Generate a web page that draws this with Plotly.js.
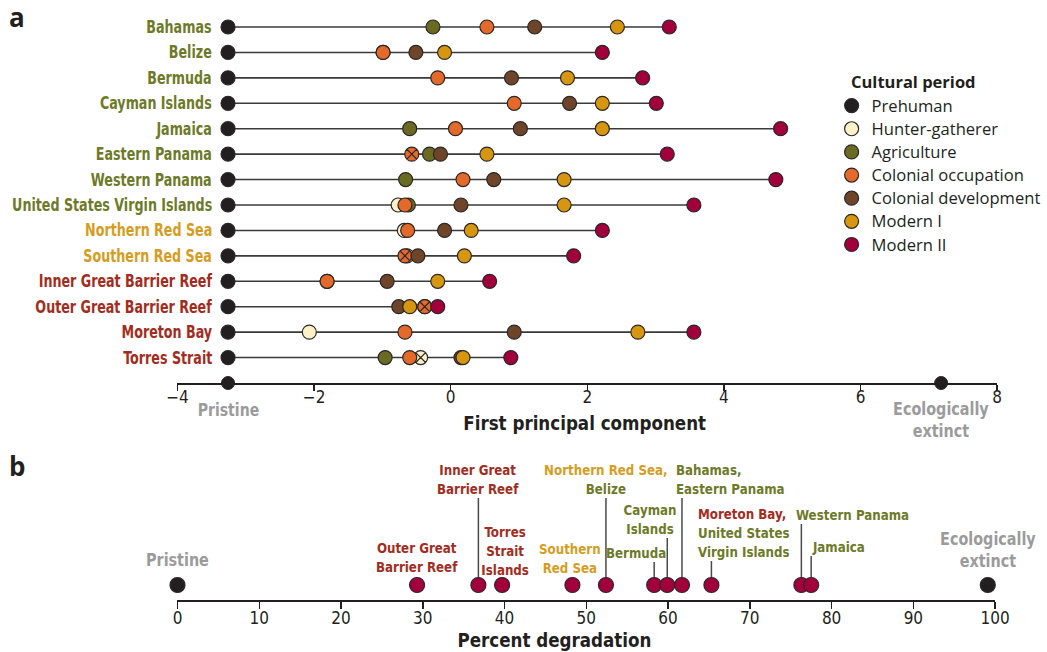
<!DOCTYPE html>
<html>
<head>
<meta charset="utf-8">
<script src="https://cdn.plot.ly/plotly-3.0.1.min.js"></script>
<style>
html,body{margin:0;padding:0;background:#fff;overflow:hidden;}
#chart{width:1047px;height:652px;}
.legendtext{transform-box:fill-box;transform-origin:left center;transform:scaleX(1.07);}
</style>
</head>
<body>
<div id="chart"></div>
<script>
// ---------- DATA: panel a (first principal component) ----------
const locations = ["Bahamas","Belize","Bermuda","Cayman Islands","Jamaica","Eastern Panama","Western Panama",
  "United States Virgin Islands","Northern Red Sea","Southern Red Sea","Inner Great Barrier Reef",
  "Outer Great Barrier Reef","Moreton Bay","Torres Strait"];
const regions = ["Caribbean","Caribbean","Caribbean","Caribbean","Caribbean","Caribbean","Caribbean",
  "Caribbean","Red Sea","Red Sea","Australia","Australia","Australia","Australia"];
const prehuman        = [-3.26,-3.26,-3.26,-3.26,-3.26,-3.26,-3.26,-3.26,-3.26,-3.26,-3.26,-3.26,-3.26,-3.26];
const hunterGatherer  = [null,null,null,null,null,null,null,-0.77,-0.68,-0.64,-1.81,-0.38,-2.07,-0.44];
const agriculture     = [-0.26,-0.99,null,null,-0.60,-0.31,-0.66,-0.62,null,null,null,null,null,-0.96];
const colonialOcc     = [0.53,-0.99,-0.19,0.93,0.07,-0.57,0.18,-0.67,-0.63,-0.67,-1.81,-0.38,-0.67,-0.60];
const colonialDev     = [1.23,-0.51,0.89,1.74,1.02,-0.15,0.63,0.15,-0.09,-0.48,-0.93,-0.76,0.93,0.15];
const modernI         = [2.44,-0.09,1.71,2.22,2.22,0.53,1.66,1.66,0.30,0.20,-0.19,-0.60,2.74,0.18];
const modernII        = [3.20,2.22,2.81,3.01,4.83,3.17,4.76,3.56,2.22,1.80,0.57,-0.19,3.56,0.88];
// points drawn with a cross in the reference
const crossedHunter   = [0,0,0,0,0,0,0,0,0,0,0,0,0,1];
const crossedColOcc   = [0,0,0,0,0,1,0,0,0,1,0,1,0,0];
const axisEnds        = [-3.26, 7.18];   // pristine and ecologically extinct on the axis
const pcTicks         = [-4,-2,0,2,4,6,8];

// ---------- DATA: panel b (percent degradation) ----------
const pctLabels = ["Pristine","Outer Great Barrier Reef","Inner Great Barrier Reef","Torres Strait Islands",
  "Southern Red Sea","Northern Red Sea, Belize","Bermuda","Cayman Islands","Bahamas, Eastern Panama",
  "Moreton Bay, United States Virgin Islands","Western Panama","Jamaica","Ecologically extinct"];
const pctValues = [0,29.3,36.8,39.7,48.3,52.4,58.3,59.9,61.7,65.3,76.3,77.5,99.1];
const pctTicks  = [0,10,20,30,40,50,60,70,80,90,100];

// ---------- STYLE ----------
const COND = "'DejaVu Sans Condensed','Liberation Sans Narrow','Arial Narrow',sans-serif";
const SANS = "'Open Sans','Noto Sans',sans-serif";
const C = {
  prehuman:'#231f20', hunter:'#fdf1c7', agri:'#6b6a22', colOcc:'#e36a2a', colDev:'#6e4529',
  modI:'#d6960f', modII:'#a1003b', edge:'#2b2627'
};
const regionColor = {Caribbean:'#6d7a28', 'Red Sea':'#d69c1e', Australia:'#a32c20'};
const GRAY = '#9b9b9b';
const MS = 14;

const rowY = locations.map((_, i) => i);
const traces = [];

// connecting lines per location (prehuman -> modern II)
const lx = [], ly = [];
locations.forEach((_, i) => { lx.push(prehuman[i], modernII[i], null); ly.push(i, i, null); });
traces.push({x: lx, y: ly, type:'scatter', mode:'lines', line:{color:'#3a3a3a', width:1.6},
  hoverinfo:'skip', showlegend:false, xaxis:'x', yaxis:'y'});

function periodTrace(name, vals, color, crossed){
  return {
    x: vals, y: rowY, type:'scatter', mode:'markers', name: name, cliponaxis:false,
    xaxis:'x', yaxis:'y',
    marker:{size:MS, color:color,
      symbol: crossed ? crossed.map(c => c ? 'circle-x' : 'circle') : 'circle',
      line:{color:C.edge, width:1.2}}
  };
}
traces.push(periodTrace('Prehuman', prehuman, C.prehuman));
traces.push(periodTrace('Hunter-gatherer', hunterGatherer, C.hunter, crossedHunter));
traces.push(periodTrace('Agriculture', agriculture, C.agri));
traces.push(periodTrace('Colonial occupation', colonialOcc, C.colOcc, crossedColOcc));
traces.push(periodTrace('Colonial development', colonialDev, C.colDev));
traces.push(periodTrace('Modern I', modernI, C.modI));
traces.push(periodTrace('Modern II', modernII, C.modII));

// axis end points (pristine / extinct) on the bottom axis line
traces.push({x: axisEnds, y: axisEnds.map(() => locations.length), type:'scatter', mode:'markers',
  cliponaxis:false, showlegend:false, xaxis:'x', yaxis:'y',
  marker:{size:13, color:C.prehuman, line:{color:C.edge, width:1}}});

// panel b dots
traces.push({x: pctValues, y: pctValues.map(() => 1), type:'scatter', mode:'markers', cliponaxis:false,
  showlegend:false, xaxis:'x2', yaxis:'y2',
  marker:{size:15, color: pctValues.map((v, i) => (i === 0 || i === pctValues.length - 1) ? C.prehuman : C.modII),
    line:{color:C.edge, width:1.2}}});

// ---------- ANNOTATIONS ----------
const ann = [];
const annScale = [];   // horizontal squeeze to imitate a condensed face
const H = 652;
const py = p => 1 - p / H;
function addAnn(a, sx){ ann.push(a); annScale.push(sx || 1); }

// location labels panel a
locations.forEach((loc, i) => {
  addAnn({text: '<b>' + loc + '</b>', x: 215/1047, xref:'paper', xanchor:'right', y: i, yref:'y',
    yanchor:'middle', showarrow:false, font:{family:COND, size:17, color: regionColor[regions[i]]}}, 0.83);
});
addAnn({text:'<b>a</b>', x:17/1047, y:py(17), xref:'paper', yref:'paper', xanchor:'center', yanchor:'middle',
  showarrow:false, font:{family:SANS, size:26, color:'#231f20'}});
addAnn({text:'<b>b</b>', x:17/1047, y:py(466), xref:'paper', yref:'paper', xanchor:'center', yanchor:'middle',
  showarrow:false, font:{family:SANS, size:26, color:'#231f20'}});
addAnn({text:'<b>Cultural period</b>', x:851/1047, y:py(81), xref:'paper', yref:'paper', xanchor:'left', yanchor:'middle',
  showarrow:false, font:{family:SANS, size:16.5, color:'#231f20'}});
addAnn({text:'<b>Pristine</b>', x:axisEnds[0], xref:'x', y:py(410), yref:'paper', xanchor:'center', yanchor:'middle',
  showarrow:false, font:{family:COND, size:17, color:GRAY}}, 0.92);
addAnn({text:'<b>Ecologically<br>extinct</b>', x:axisEnds[1], xref:'x', y:py(420), yref:'paper', xanchor:'center',
  yanchor:'middle', showarrow:false, font:{family:COND, size:17, color:GRAY}}, 0.94);
addAnn({text:'<b>First principal component</b>', x:587/1047, xref:'paper', y:py(423), yref:'paper',
  xanchor:'center', yanchor:'middle', showarrow:false, font:{family:COND, size:20, color:'#231f20'}}, 0.93);
addAnn({text:'<b>Percent degradation</b>', x:556/1047, xref:'paper', y:py(640), yref:'paper',
  xanchor:'center', yanchor:'middle', showarrow:false, font:{family:COND, size:20, color:'#231f20'}}, 0.93);

// panel b labels
const R = regionColor.Australia, G = regionColor.Caribbean, Y = regionColor['Red Sea'];
const span = (t, c) => '<span style="color:' + c + '">' + t + '</span>';
// [index, html, color, xanchor, xshift, bottom pixel, align, leader?]
const pctAnn = [
  [0, 'Pristine', GRAY, 'center', 0, 572, 'center', false],
  [1, 'Outer Great<br>Barrier Reef', R, 'center', 0, 577, 'center', false],
  [2, 'Inner Great<br>Barrier Reef', R, 'center', 0, 499, 'center', true],
  [3, 'Torres<br>Strait<br>Islands', R, 'center', 3, 580, 'center', false],
  [4, 'Southern<br>Red Sea', Y, 'center', -2, 578, 'center', false],
  [5, span('Northern Red Sea,', Y) + '<br>' + span('Belize', G), G, 'center', 0, 499, 'center', true],
  [6, 'Bermuda', G, 'center', -18, 563, 'center', true],
  [7, 'Cayman<br>Islands', G, 'center', -17, 539, 'center', true],
  [8, 'Bahamas,<br>Eastern Panama', G, 'left', -8, 499, 'left', true],
  [9, span('Moreton Bay,', R) + '<br>' + span('United States', G) + '<br>' + span('Virgin Islands', G), G, 'left', -15, 562, 'left', true],
  [10, 'Western Panama', G, 'left', -7, 525, 'left', true],
  [11, 'Jamaica', G, 'left', -1, 557, 'left', true],
  [12, 'Ecologically<br>extinct', GRAY, 'center', 0, 573, 'center', false]
];
const shapes = [];
pctAnn.forEach(a => {
  const [i, txt, col, xa, xs, bot, al, lead] = a;
  const ends = (i === 0 || i === 12);
  addAnn({text:'<b>' + txt + '</b>', x: pctValues[i], xref:'x2', xanchor: xa, xshift: xs,
    y: py(bot), yref:'paper', yanchor:'bottom', align: al, showarrow:false,
    font:{family:COND, size: ends ? 17 : 14.5, color: col}}, ends ? 0.94 : 0.91);
  if (lead) {
    shapes.push({type:'line', xref:'x2', yref:'paper', x0: pctValues[i], x1: pctValues[i],
      y0: py(bot - 1), y1: py(577), line:{color:'#4a4a4a', width:1.5}});
  }
});

const layout = {
  width:1047, height:652, margin:{l:0, r:0, t:0, b:0},
  paper_bgcolor:'#fff', plot_bgcolor:'rgba(0,0,0,0)',
  showlegend:true,
  legend:{x:834/1047, y:py(89), xanchor:'left', yanchor:'top', bgcolor:'rgba(0,0,0,0)',
    font:{family:SANS, size:15.5, color:'#231f20'}, itemwidth:30, tracegroupgap:0},
  xaxis:{domain:[178/1047, 1000/1047], range:[-4, 8], anchor:'y', showgrid:false, zeroline:false,
    showline:true, linecolor:'#231f20', linewidth:1.5, ticks:'outside', ticklen:6, tickwidth:1.5,
    tickcolor:'#231f20', tickvals: pcTicks, ticktext: pcTicks.map(v => v < 0 ? '\u2212' + Math.abs(v) : String(v)),
    tickfont:{family:COND, size:17, color:'#231f20'}, ticklabelstandoff:-8, fixedrange:true},
  yaxis:{domain:[py(383), py(9.2)], range:[locations.length, -0.7], visible:false, fixedrange:true},
  xaxis2:{domain:[178/1047, 998/1047], range:[0, 100], anchor:'y2', showgrid:false, zeroline:false,
    showline:true, linecolor:'#231f20', linewidth:1.5, ticks:'outside', ticklen:7, tickwidth:1.5,
    tickcolor:'#231f20', tickvals: pctTicks, tickfont:{family:COND, size:17, color:'#231f20'},
    ticklabelstandoff:-5, fixedrange:true},
  yaxis2:{domain:[py(600), py(585)], range:[0, 1], visible:false, fixedrange:true},
  annotations: ann, shapes: shapes
};

Plotly.newPlot('chart', traces, layout, {displayModeBar:false, staticPlot:true}).then(gd => {
  gd.querySelectorAll('g.annotation').forEach(g => {
    const i = +g.getAttribute('data-index');
    const k = annScale[i];
    if (!k || k === 1) return;
    const t = g.querySelector('text.annotation-text');
    if (!t) return;
    t.style.transformBox = 'fill-box';
    t.style.transformOrigin = (ann[i].xanchor || 'center') + ' center';
    t.style.transform = 'scaleX(' + k + ')';
  });
});
</script>
</body>
</html>
